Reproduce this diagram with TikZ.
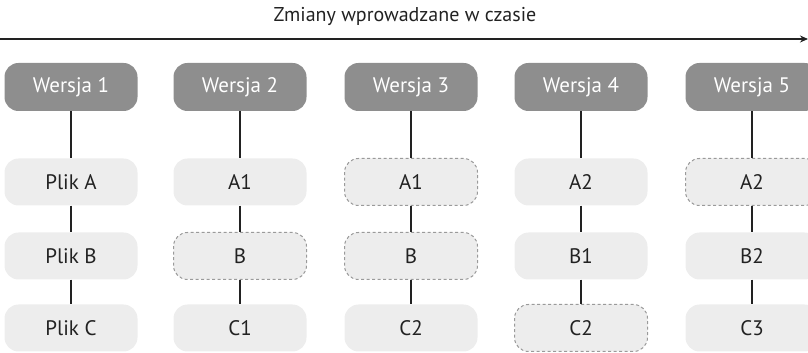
\documentclass[tikz,border=0pt]{standalone}
\usepackage{fontspec}
\setmainfont{PT Sans}
\usetikzlibrary{arrows.meta}
\definecolor{hdr}{HTML}{8E8E8E}
\definecolor{cell}{HTML}{EDEDED}
\definecolor{dash}{HTML}{9A9A9A}
\definecolor{ink}{HTML}{222222}
\tikzset{
  hdrbox/.style={rounded corners=14pt, fill=hdr, draw=none, minimum width=133pt, minimum height=48pt, text=white, font=\fontsize{21}{24}\selectfont, inner sep=0pt},
  cellbox/.style={rounded corners=14pt, fill=cell, draw=none, minimum width=133pt, minimum height=47pt, text=ink, font=\fontsize{21}{24}\selectfont, inner sep=0pt},
  dashbox/.style={cellbox, draw=dash, dashed, dash pattern=on 3pt off 2.5pt, line width=1pt},
  link/.style={draw=ink, line width=1.4pt}
}
\begin{document}
\begin{tikzpicture}[x=1pt,y=1pt]
\useasboundingbox (0,0) rectangle (808,353);
\clip (0,0) rectangle (808,353);
\node[text=ink, font=\fontsize{20}{24}\selectfont] (title) at (405,337) {Zmiany wprowadzane w czasie};
\coordinate (tl) at (0,314);
\coordinate (tr) at (808,314);
\draw[link, -{Stealth[length=8pt,width=7pt]}] (tl) -- (tr);
% column 1
\node[hdrbox] (h1) at (71,266) {Wersja 1};
\node[cellbox] (a1) at (71,171) {Plik A};
\node[cellbox] (b1) at (71,97) {Plik B};
\node[cellbox] (c1) at (71,25) {Plik C};
% column 2
\node[hdrbox] (h2) at (240,266) {Wersja 2};
\node[cellbox] (a2) at (240,171) {A1};
\node[dashbox] (b2) at (240,97) {B};
\node[cellbox] (c2) at (240,25) {C1};
% column 3
\node[hdrbox] (h3) at (411,266) {Wersja 3};
\node[dashbox] (a3) at (411,171) {A1};
\node[dashbox] (b3) at (411,97) {B};
\node[cellbox] (c3) at (411,25) {C2};
% column 4
\node[hdrbox] (h4) at (581,266) {Wersja 4};
\node[cellbox] (a4) at (581,171) {A2};
\node[cellbox] (b4) at (581,97) {B1};
\node[dashbox] (c4) at (581,25) {C2};
% column 5
\node[hdrbox] (h5) at (752,266) {Wersja 5};
\node[dashbox] (a5) at (752,171) {A2};
\node[cellbox] (b5) at (752,97) {B2};
\node[cellbox] (c5) at (752,25) {C3};
\foreach \i in {1,...,5}{
  \draw[link] (h\i.south) -- (a\i.north);
  \draw[link] (a\i.south) -- (b\i.north);
  \draw[link] (b\i.south) -- (c\i.north);
}
\end{tikzpicture}
\end{document}
